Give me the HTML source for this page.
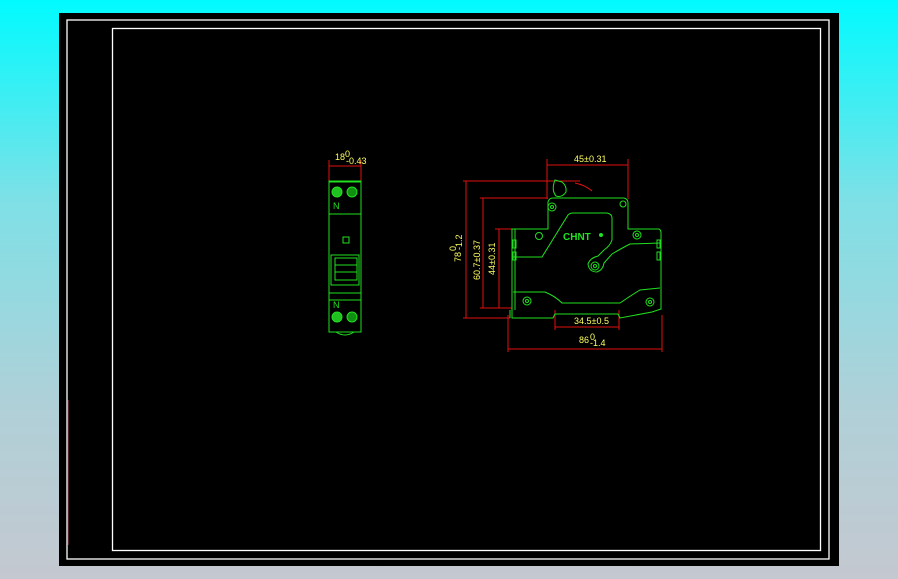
<!DOCTYPE html>
<html><head><meta charset="utf-8"><style>
html,body{margin:0;padding:0;width:898px;height:579px;overflow:hidden}
body{background:linear-gradient(180deg,#00fbff 0%,#7fe0e6 35%,#b0d0d8 70%,#c4c8d0 100%)}
svg{position:absolute;left:0;top:0}
text{font-family:"Liberation Sans",sans-serif;fill:#ffff60;font-size:9px}
</style></head><body>
<svg width="898" height="579" viewBox="0 0 898 579">
<rect x="59" y="13" width="780" height="553" fill="#000"/>
<rect x="67" y="20" width="762" height="539" fill="none" stroke="#fff" stroke-width="1.3"/>
<rect x="112.5" y="28.5" width="708" height="522" fill="none" stroke="#fff" stroke-width="1.3"/>
<line x1="68" y1="400" x2="68" y2="545" stroke="#a04060" stroke-width="1"/>

<g stroke="#e01010" stroke-width="1" fill="none">
<line x1="329" y1="166" x2="361" y2="166"/>
<line x1="329" y1="160" x2="329" y2="181"/>
<line x1="361" y1="160" x2="361" y2="181"/>
</g>
<text x="335" y="160">18</text><text x="345" y="157" font-size="6">0</text><text x="346" y="164" font-size="6">-0.43</text>
<g stroke="#20e020" stroke-width="1" fill="none">
<rect x="329" y="181" width="32" height="151"/>
<line x1="329" y1="181.5" x2="361" y2="181.5" stroke-width="2"/>
<circle cx="337" cy="192" r="5" fill="#20c020"/><circle cx="352" cy="192" r="5" fill="#109010"/>
<circle cx="337" cy="317" r="5" fill="#20c020"/><circle cx="352" cy="317" r="5" fill="#109010"/>
<line x1="329" y1="214" x2="361" y2="214"/>
<rect x="343" y="237" width="6" height="6"/>
<rect x="331" y="255" width="28" height="30"/>
<rect x="335" y="258" width="22" height="22"/>
<line x1="335" y1="265" x2="357" y2="265"/><line x1="335" y1="272" x2="357" y2="272"/>
<line x1="329" y1="293" x2="361" y2="293"/>
<line x1="329" y1="300" x2="361" y2="300"/>
<path d="M336 332 Q345 338 354 332"/>
</g>
<text x="333" y="209" style="fill:#20e020" font-size="7">N</text>
<text x="333" y="308" style="fill:#20e020" font-size="7">N</text>

<g stroke="#e01010" stroke-width="1" fill="none">
<line x1="547" y1="165" x2="628" y2="165"/>
<line x1="547" y1="159" x2="547" y2="199"/><line x1="628" y1="159" x2="628" y2="199"/>
<line x1="463" y1="181" x2="580" y2="181"/>
<path d="M575 183 Q585 185 592 191"/>
<line x1="480" y1="198" x2="548" y2="198"/>
<line x1="495" y1="229" x2="515" y2="229"/>
<line x1="466" y1="181" x2="466" y2="318"/>
<line x1="483" y1="198" x2="483" y2="308"/>
<line x1="499" y1="229" x2="499" y2="308"/>
<line x1="480" y1="308" x2="512" y2="308"/>
<line x1="463" y1="318" x2="510" y2="318"/>
<line x1="555" y1="327" x2="619" y2="327"/>
<line x1="555" y1="310" x2="555" y2="330"/><line x1="619" y1="310" x2="619" y2="330"/>
<line x1="508" y1="349" x2="662" y2="349"/>
<line x1="508" y1="315" x2="508" y2="352"/><line x1="662" y1="315" x2="662" y2="352"/>
</g>
<text x="574" y="162">45±0.31</text>
<text x="574" y="324">34.5±0.5</text>
<text x="579" y="343">86</text><text x="590" y="340" font-size="6">0</text><text x="590" y="346" font-size="6">-1.4</text>
<text transform="translate(461,262) rotate(-90)">78</text><text transform="translate(456,251) rotate(-90)" font-size="6">0</text><text transform="translate(462,250) rotate(-90)" font-size="6">-1.2</text>
<text transform="translate(480,280) rotate(-90)">60.7±0.37</text>
<text transform="translate(495,275) rotate(-90)">44±0.31</text>

<g stroke="#20e020" stroke-width="1" fill="none">
<path d="M548 229 L548 202 Q549 198 553 198 L624 198 Q628 199 628 203 L628 229 L659 229 Q661 230 661 233 L661 309 L652 312 L620 318 L618 314 L555 314 L553 318 L512 318 L512 229 Z"/>
<path d="M515 229 L515 310"/>
<path d="M513 257 L542 257 L568 215 Q570 213 573 213 L607 213 Q612 214 612 218 L612 240 Q610 246 604 250 L598 256 Q590 258 588 264 Q589 272 597 272 Q603 270 604 263 L612 254 Q622 248 630 244 L660 243"/>
<path d="M513 292 L545 292 Q555 296 562 303 L620 303 Q630 296 640 290 L660 288"/>
<path d="M555 180 Q551 190 556 196 Q562 198 566 192 Q567 186 562 182 Z"/>
<circle cx="552" cy="207" r="4"/><circle cx="552" cy="207" r="1.5"/>
<circle cx="623" cy="204" r="3"/>
<circle cx="539" cy="236" r="3.5"/><circle cx="637" cy="235" r="4"/><circle cx="637" cy="235" r="1.5"/>
<circle cx="595" cy="266" r="4"/><circle cx="595" cy="266" r="1.5"/>
<circle cx="527" cy="301" r="4"/><circle cx="527" cy="301" r="1.5"/>
<circle cx="650" cy="302" r="4"/><circle cx="650" cy="302" r="1.5"/>
<rect x="513" y="240" width="3" height="8"/><rect x="513" y="252" width="3" height="8"/>
<rect x="657" y="240" width="3" height="8"/><rect x="657" y="252" width="3" height="8"/>
<line x1="510" y1="310" x2="510" y2="318"/>
</g>
<text x="563" y="240" style="fill:#20e020;font-weight:bold;font-size:10px">CHNT</text>
<circle cx="601" cy="235" r="2" fill="#20e020"/>
</svg>
</body></html>
